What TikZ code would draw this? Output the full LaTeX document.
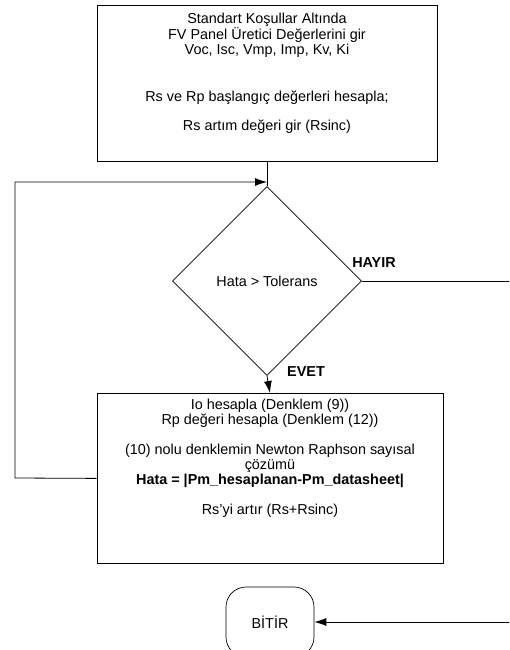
\documentclass[tikz,border=0pt]{standalone}
\usepackage{fontspec}
\setmainfont{Liberation Sans}
\usepackage{tikz}
\usetikzlibrary{arrows.meta,shapes.geometric,calc}

\tikzset{
  procbox/.style={draw, line width=0.8pt, inner sep=0pt},
  decbox/.style={draw, diamond, aspect=1, inner sep=0pt, line width=0.7pt},
  endbox/.style={draw, rounded corners=20pt, line width=0.7pt, minimum width=88pt, minimum height=70pt},
  flow/.style={line width=0.8pt},
  flowarr/.style={line width=0.8pt, -{Latex[length=12pt,width=8pt]}},
  lbl/.style={font=\bfseries, inner sep=0pt},
}

\begin{document}
\begin{tikzpicture}[x=1pt,y=-1pt]
\fontsize{14.4}{15}\selectfont
\useasboundingbox (0,0) rectangle (509,650);

\node[procbox, anchor=north] (init) at (267,5) {\parbox[t][156pt][t]{340pt}{\centering\vspace{8pt}
Standart Koşullar Altında\\
FV Panel Üretici Değerlerini gir\\
Voc, Isc, Vmp, Imp, Kv, Ki\\[32pt]
Rs ve Rp başlangıç değerleri hesapla;\\[14pt]
Rs artım değeri gir (Rsinc)}};

\coordinate (merge) at (267,182);
\node[decbox, minimum size=189pt] (dec) at (267,281) {Hata > Tolerans};

\node[procbox, anchor=north] (calc) at (270,393) {\parbox[t][170pt][t]{346pt}{\centering\vspace{6pt}
Io hesapla (Denklem (9))\\
Rp değeri hesapla (Denklem (12))\\[15pt]
(10) nolu denklemin Newton Raphson sayısal\\
çözümü\\
\textbf{Hata = |Pm\_hesaplanan-Pm\_datasheet|}\\[15pt]
Rs’yi artır (Rs+Rsinc)}};

\node[endbox] (stop) at (270,622) {BİTİR};

\coordinate (rightA) at (509,281);
\coordinate (rightB) at (509,622);
\coordinate (leftA) at (15,478);

% connectors
\draw[flow] (init.south) -- (dec.north);
\draw[flowarr] (calc.west) -- (leftA) |- (merge);
\draw[flowarr] (dec.south) -- (calc.north);
\draw[flow] (dec.east) -- (rightA);
\draw[flowarr] (rightB) -- (stop.east);

\node[lbl] at (374,263) {HAYIR};
\node[lbl] at (306,372) {EVET};
\end{tikzpicture}
\end{document}
